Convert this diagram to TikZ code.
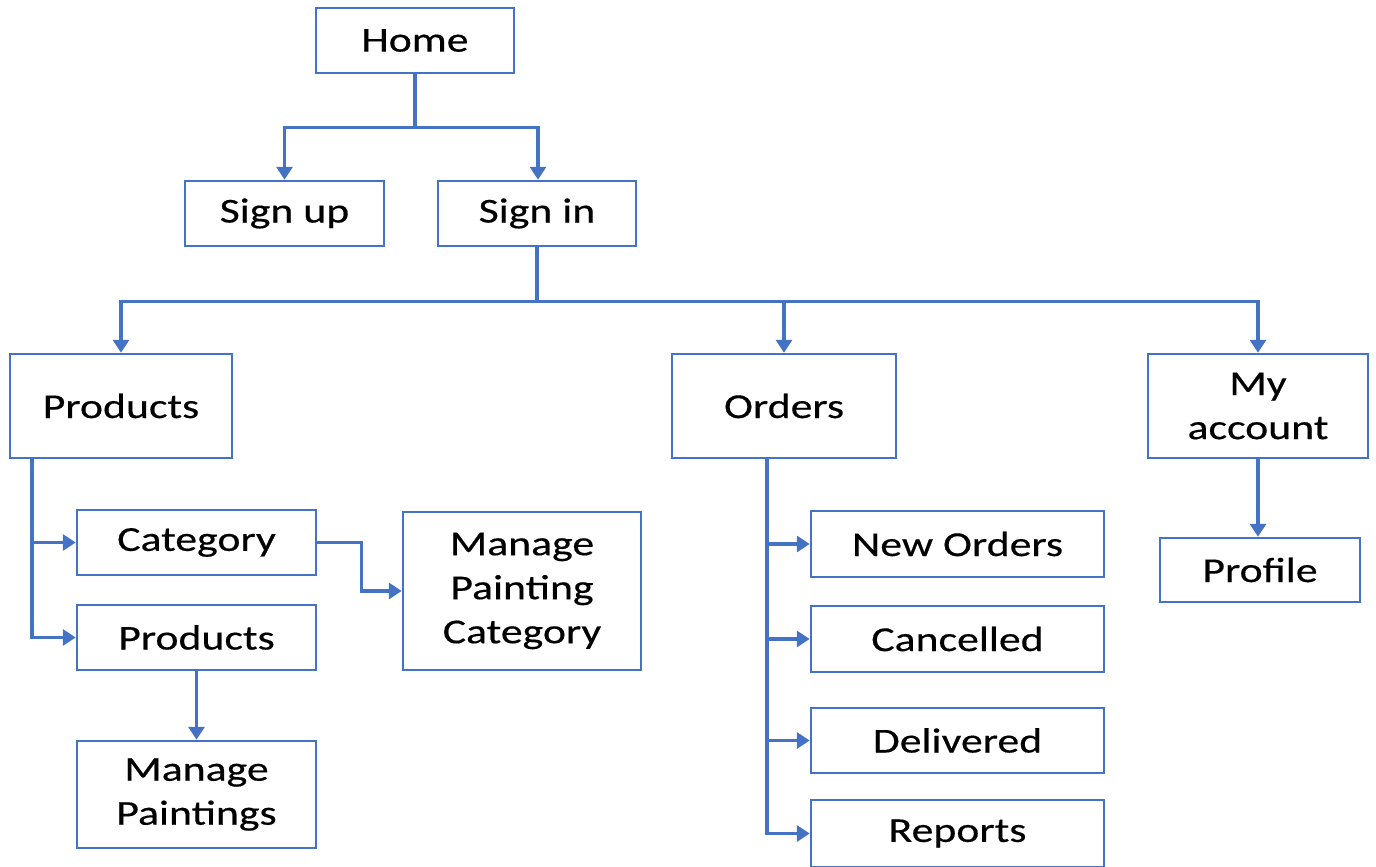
\documentclass[tikz,border=0pt]{standalone}
\usepackage{fontspec}
\setmainfont{Carlito}[FakeStretch=1.25,FakeBold=0.4]
\usetikzlibrary{arrows.meta}
\definecolor{bl}{HTML}{4472C4}
\tikzset{
  box/.style={draw=bl, line width=2.5pt, align=center, inner sep=0pt,
    font=\fontsize{35}{44}\selectfont, text=black},
  conn/.style={draw=bl, line width=3.5pt},
  arr/.style={conn, -{Triangle[width=16pt,length=13pt]}}
}
\begin{document}
\begin{tikzpicture}[x=1pt,y=-1pt]
\useasboundingbox (0,0) rectangle (1376,867);
\node[box, minimum width=198pt, minimum height=65pt] (home) at (415,40.5) {Home};
\node[box, minimum width=199pt, minimum height=65pt] (signup) at (284.5,213.5) {Sign up};
\node[box, minimum width=198pt, minimum height=65pt] (signin) at (537,213.5) {Sign in};
\node[box, minimum width=222pt, minimum height=104pt] (products) at (121,406) {Products};
\node[box, minimum width=224pt, minimum height=104pt] (orders) at (784,406) {Orders};
\node[box, minimum width=220pt, minimum height=104pt] (myacc) at (1258,406) {My\\account};
\node[box, minimum width=239pt, minimum height=65pt] (category) at (196.5,542.5) {Category};
\node[box, minimum width=239pt, minimum height=65pt] (products2) at (196.5,637.5) {Products};
\node[box, minimum width=238pt, minimum height=158pt] (mpc) at (522,591) {Manage\\Painting\\Category};
\node[box, minimum width=239pt, minimum height=107pt] (mp) at (196.5,794.5) {Manage\\Paintings};
\node[box, minimum width=293pt, minimum height=66pt] (neworders) at (957.5,544) {New Orders};
\node[box, minimum width=293pt, minimum height=66pt] (cancelled) at (957.5,639) {Cancelled};
\node[box, minimum width=293pt, minimum height=65pt] (delivered) at (957.5,740.5) {Delivered};
\node[box, minimum width=293pt, minimum height=67pt] (reports) at (957.5,833.5) {Reports};
\node[box, minimum width=200pt, minimum height=64pt] (profile) at (1260,570) {Profile};

\draw[arr] (home.south) -- ++(0,53) -| (signup.north);
\draw[arr] (home.south) -- ++(0,53) -| ([xshift=1pt]signin.north);
\draw[arr] (signin.south) -- ++(0,54) -| (products.north);
\draw[arr] (signin.south) -- ++(0,54) -| (orders.north);
\draw[arr] (signin.south) -- ++(0,54) -| (myacc.north);

\draw[arr] ([xshift=23pt]products.south west) |- (category.west);
\draw[arr] ([xshift=23pt]products.south west) |- (products2.west);
\draw[arr] (category.east) -- ++(44,0) |- (mpc.west);
\draw[arr] (products2.south) -- (mp.north);

\draw[arr] ([xshift=96pt]orders.south west) |- (neworders.west);
\draw[arr] ([xshift=96pt]orders.south west) |- (cancelled.west);
\draw[arr] ([xshift=96pt]orders.south west) |- (delivered.west);
\draw[arr] ([xshift=96pt]orders.south west) |- (reports.west);

\draw[arr] (myacc.south) -- (myacc.south |- profile.north);
\end{tikzpicture}
\end{document}
